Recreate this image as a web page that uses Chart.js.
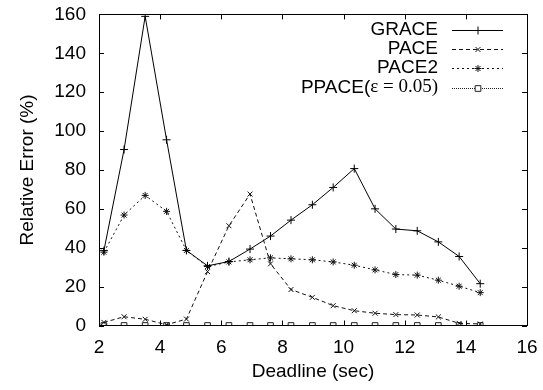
<!DOCTYPE html>
<html>
<head>
<meta charset="utf-8">
<script src="https://cdn.jsdelivr.net/npm/chart.js@4.4.0/dist/chart.umd.min.js"></script>
<style>
  body { margin: 0; background: #fff; }
  #wrap { width: 543px; height: 390px; }
</style>
</head>
<body>
<div id="wrap"><canvas id="chart"></canvas></div>
<script>
// values
const deadlines = [2.16, 2.82, 3.51, 4.21, 4.86, 5.55, 6.25, 6.94, 7.61, 8.28, 8.98, 9.66, 10.35, 11.03, 11.71, 12.41, 13.1, 13.78, 14.47];
const grace = [38.5, 90.5, 159, 95.5, 38.6, 30.7, 32.9, 39.3, 46, 54.2, 62.1, 71, 80.7, 60, 49.6, 48.7, 43, 35.5, 21.5];
const pace = [1.6, 4.5, 3.2, 0.4, 3.3, 27.7, 51.3, 67.6, 31.7, 18.5, 14.5, 10.2, 7.6, 6.3, 5.6, 5.4, 4.4, 1.1, 0.8];
const pace2 = [37.7, 56.8, 66.9, 58.7, 38.6, 30.3, 32.7, 33.8, 34.8, 34.3, 33.8, 32.7, 31, 28.6, 26.2, 25.9, 23.3, 20.2, 16.9];
const ppace = [0, 0, 0, 0, 0, 0, 0, 0, 0, 0, 0, 0, 0, 0, 0, 0, 0, 0, 0];
const xTicks = [2, 4, 6, 8, 10, 12, 14, 16];
const yTicks = [0, 20, 40, 60, 80, 100, 120, 140, 160];

const font = "'Liberation Sans', Arial, sans-serif";
const serif = "'Liberation Serif', 'Times New Roman', serif";

const points = (ys) => deadlines.map((x, i) => ({ x: x, y: ys[i] }));

const series = [
  { label: "GRACE", data: grace, dash: [], style: "cross", radius: 4, color: "#000" },
  { label: "PACE", data: pace, dash: [4, 3], style: "crossRot", radius: 3.5, color: "#111" },
  { label: "PACE2", data: pace2, dash: [2, 3], style: "star", radius: 3.5, color: "#111" },
  { label: "PPACE", data: ppace, dash: [1, 1], style: "rect", radius: 4, color: "#222" },
];

// gnuplot-like frame with inward ticks and a right-aligned key
const frame = {
  id: "frame",
  afterDraw(chart) {
    const ctx = chart.ctx;
    const a = chart.chartArea;
    const xs = chart.scales.x;
    const ys = chart.scales.y;
    ctx.save();
    ctx.strokeStyle = "#000";
    ctx.lineWidth = 1;
    ctx.setLineDash([]);
    ctx.beginPath();
    xTicks.forEach((t) => {
      const px = Math.round(xs.getPixelForValue(t)) + 0.5;
      ctx.moveTo(px, a.bottom); ctx.lineTo(px, a.bottom - 5);
      ctx.moveTo(px, a.top); ctx.lineTo(px, a.top + 5);
    });
    yTicks.forEach((t) => {
      const py = Math.round(ys.getPixelForValue(t)) + 0.5;
      ctx.moveTo(a.left, py); ctx.lineTo(a.left + 5, py);
      ctx.moveTo(a.right, py); ctx.lineTo(a.right - 5, py);
    });
    ctx.stroke();
    ctx.strokeRect(Math.round(a.left) + 0.5, Math.round(a.top) + 0.5, Math.round(a.right - a.left), Math.round(a.bottom - a.top));

    // key
    const textRight = 438;
    const lineL = 452, lineR = 503;
    const rows = [29.5, 49, 68, 87.5];
    ctx.font = "19px " + font;
    ctx.textBaseline = "middle";
    chart.data.datasets.forEach((ds, i) => {
      const y = rows[i];
      ctx.fillStyle = "#000";
      ctx.textAlign = "right";
      if (i === 3) {
        ctx.font = "19px " + serif;
        const tail = "\u03b5 = 0.05)";
        const w2 = ctx.measureText(tail).width;
        ctx.fillText(tail, textRight, y);
        ctx.font = "19px " + font;
        ctx.fillText("PPACE(", textRight - w2, y);
      } else {
        ctx.fillText(ds.label, textRight, y);
      }
      ctx.strokeStyle = ds.borderColor;
      ctx.setLineDash(ds.borderDash);
      ctx.beginPath();
      ctx.moveTo(lineL, Math.round(y) + 0.5);
      ctx.lineTo(lineR, Math.round(y) + 0.5);
      ctx.stroke();
      ctx.setLineDash([]);
      ctx.fillStyle = "#fff";
      Chart.helpers.drawPoint(ctx, {
        pointStyle: ds.pointStyle, radius: ds.pointRadius, borderWidth: 1, rotation: 0
      }, 478, Math.round(y) + 0.5);
    });
    ctx.restore();
  },
};

const hiddenTicks = { display: true, drawOnChartArea: false, drawTicks: true, tickLength: 10, color: "rgba(0,0,0,0)" };

new Chart("chart", {
  type: "line",
  data: {
    datasets: series.map((s) => ({
      label: s.label,
      data: points(s.data),
      borderColor: s.color,
      backgroundColor: "transparent",
      borderWidth: 1,
      borderDash: s.dash,
      pointStyle: s.style,
      pointRadius: s.radius,
      pointBorderColor: s.color,
      pointBackgroundColor: "#fff",
      pointBorderWidth: 1,
      tension: 0,
      fill: false,
    })),
  },
  options: {
    responsive: true,
    maintainAspectRatio: false,
    animation: false,
    layout: { padding: { left: 0, right: 16, top: 5, bottom: 0 } },
    plugins: {
      legend: { display: false },
      tooltip: { enabled: false },
    },
    scales: {
      x: {
        type: "linear",
        min: 2,
        max: 16,
        afterFit: (s) => { s.height = 64.5; },
        afterBuildTicks: (s) => { s.ticks = xTicks.map((v) => ({ value: v })); },
        ticks: { color: "#000", padding: 3, font: { family: font, size: 19 }, maxRotation: 0 },
        grid: { display: false },
        border: { display: false },
        title: { display: true, text: "Deadline (sec)", color: "#000", font: { family: font, size: 19 }, padding: { top: 0, bottom: 7 } },
      },
      y: {
        min: 0,
        max: 160,
        afterFit: (s) => { s.width = 99; },
        afterBuildTicks: (s) => { s.ticks = yTicks.map((v) => ({ value: v })); },
        ticks: { color: "#000", padding: 3, font: { family: font, size: 19 } },
        grid: hiddenTicks,
        border: { display: false },
        title: { display: true, text: "Relative Error (%)", color: "#000", font: { family: font, size: 19 }, padding: { top: 16.6, bottom: 0 } },
      },
    },
  },
  plugins: [frame],
});
</script>
</body>
</html>
